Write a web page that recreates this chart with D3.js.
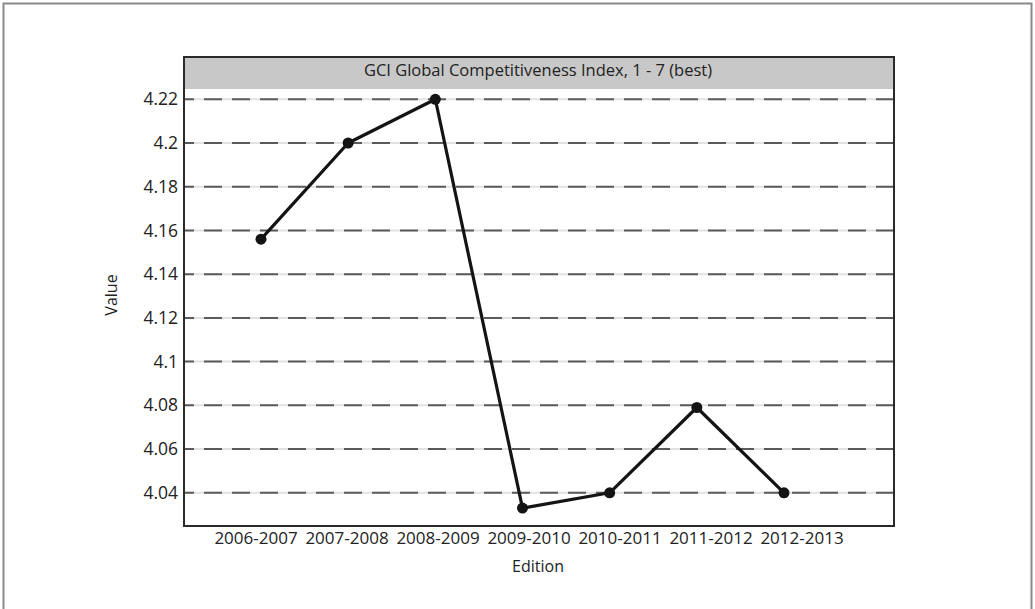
<!DOCTYPE html>
<html>
<head>
<meta charset="utf-8">
<script src="https://cdn.jsdelivr.net/npm/d3@7"></script>
<style>
  html, body { margin: 0; padding: 0; background: #fff; }
  svg { display: block; }
  text { font-family: "Open Sans", "Noto Sans", sans-serif; fill: #222; }
</style>
</head>
<body>
<svg id="chart" width="1035" height="609"></svg>
<script>
const categories = ["2006-2007", "2007-2008", "2008-2009", "2009-2010", "2010-2011", "2011-2012", "2012-2013"];
const values = [4.156, 4.20, 4.22, 4.033, 4.04, 4.079, 4.04];
const yTicks = [4.04, 4.06, 4.08, 4.1, 4.12, 4.14, 4.16, 4.18, 4.2, 4.22];
const titleText = "GCI Global Competitiveness Index, 1 - 7 (best)";
const xTitle = "Edition";
const yTitle = "Value";

const svg = d3.select("#chart");
const frame = { left: 184, right: 894, top: 57, bottom: 526 };
const band = { top: 57, bottom: 89 };

// outer page border
svg.append("path")
  .attr("d", `M3.5,609 V3.5 H1031.5 V609`)
  .attr("fill", "none").attr("stroke", "#8a8a8a").attr("stroke-width", 2);

const y = d3.scaleLinear().domain([4.0248, 4.2247]).range([frame.bottom, band.bottom]);
const x = d3.scalePoint().domain(categories).range([261, 784]);
const xLab = d3.scalePoint().domain(categories).range([255.5, 801.5]);

// plot background
svg.append("rect")
  .attr("x", frame.left).attr("y", frame.top)
  .attr("width", frame.right - frame.left).attr("height", frame.bottom - frame.top)
  .attr("fill", "#fff");

// title band
svg.append("rect")
  .attr("x", frame.left).attr("y", band.top)
  .attr("width", frame.right - frame.left).attr("height", band.bottom - band.top)
  .attr("fill", "#c8c8c8");
svg.append("text")
  .attr("x", 538).attr("y", 72)
  .attr("text-anchor", "middle").attr("dominant-baseline", "middle")
  .attr("font-size", 16.5).text(titleText);

// gridlines
const grid = svg.append("g");
grid.selectAll("line.bg").data(yTicks).join("line")
  .attr("class", "bg")
  .attr("x1", frame.left).attr("x2", frame.right)
  .attr("y1", d => y(d)).attr("y2", d => y(d))
  .attr("stroke", "#e2e2e2").attr("stroke-width", 2);
grid.selectAll("line.dash").data(yTicks).join("line")
  .attr("class", "dash")
  .attr("x1", frame.left).attr("x2", frame.right)
  .attr("y1", d => y(d)).attr("y2", d => y(d))
  .attr("stroke", "#5a5a5a").attr("stroke-width", 2)
  .attr("stroke-dasharray", "18,10").attr("stroke-dashoffset", 8);

// y axis labels
const yAxis = d3.axisLeft(y).tickValues(yTicks).tickSize(0).tickPadding(0)
  .tickFormat(d => String(+d.toFixed(2)));
const ya = svg.append("g").attr("transform", `translate(${frame.left - 6},0)`).call(yAxis);
ya.select(".domain").remove();
ya.selectAll("text").attr("font-size", 17.5).attr("fill", "#222")
  .attr("font-family", "Open Sans, sans-serif");

// x axis labels
const xAxis = d3.axisBottom(xLab).tickSize(0).tickPadding(0);
const xa = svg.append("g").attr("transform", `translate(0,${frame.bottom + 6})`).call(xAxis);
xa.select(".domain").remove();
xa.selectAll("text").attr("font-size", 17).attr("fill", "#222")
  .attr("font-family", "Open Sans, sans-serif").attr("dy", "0.71em");

// axis titles
svg.append("text")
  .attr("x", 538).attr("y", 568)
  .attr("text-anchor", "middle").attr("dominant-baseline", "middle")
  .attr("font-size", 16).text(xTitle);
svg.append("text")
  .attr("transform", "translate(113,295) rotate(-90)")
  .attr("text-anchor", "middle").attr("dominant-baseline", "middle")
  .attr("font-size", 16).text(yTitle);

// line
const data = categories.map((c, i) => ({ c, v: values[i] }));
svg.append("path")
  .datum(data)
  .attr("fill", "none").attr("stroke", "#141414").attr("stroke-width", 3.2)
  .attr("stroke-linejoin", "round")
  .attr("d", d3.line().x(d => x(d.c)).y(d => y(d.v)));
svg.selectAll("circle.pt").data(data).join("circle")
  .attr("class", "pt")
  .attr("cx", d => x(d.c)).attr("cy", d => y(d.v)).attr("r", 5.5)
  .attr("fill", "#141414");

// frame
svg.append("rect")
  .attr("x", frame.left).attr("y", frame.top)
  .attr("width", frame.right - frame.left).attr("height", frame.bottom - frame.top)
  .attr("fill", "none").attr("stroke", "#2a2a2a").attr("stroke-width", 2);
</script>
</body>
</html>
